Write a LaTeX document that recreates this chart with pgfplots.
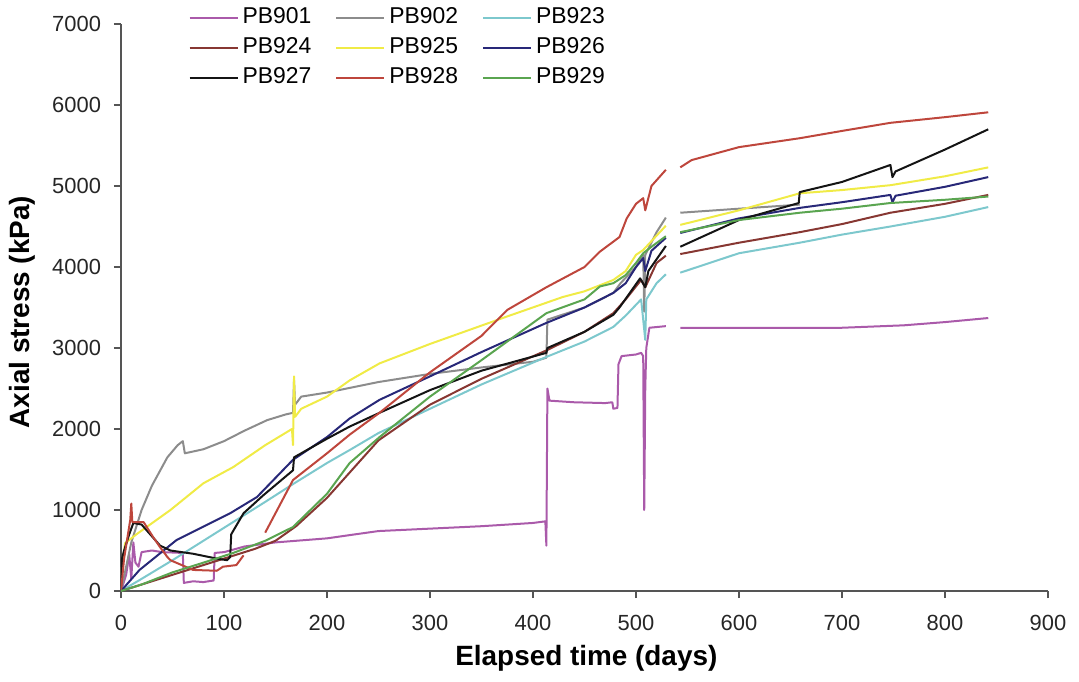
\documentclass[border=0pt]{standalone}
\usepackage{fontspec}
\setmainfont{Liberation Sans}
\usepackage{pgfplots}
\pgfplotsset{compat=1.18}
\definecolor{c901}{RGB}{170,90,170}
\definecolor{c902}{RGB}{140,140,140}
\definecolor{c923}{RGB}{125,200,205}
\definecolor{c924}{RGB}{135,55,50}
\definecolor{c925}{RGB}{240,235,70}
\definecolor{c926}{RGB}{40,40,120}
\definecolor{c927}{RGB}{20,20,20}
\definecolor{c928}{RGB}{190,70,60}
\definecolor{c929}{RGB}{90,165,80}
\definecolor{axc}{RGB}{85,85,85}
\begin{document}
\begin{tikzpicture}
\path[use as bounding box] (-60.5bp,-45.5bp) rectangle (479bp,295.5bp);
\begin{axis}[
  at={(0,0)}, anchor=south west,
  scale only axis, width=463.5bp, height=283.5bp,
  xmin=0, xmax=900, ymin=0, ymax=7000,
  xtick={0,100,...,900}, ytick={0,1000,...,7000},
  axis x line*=bottom, axis y line*=left,
  axis line style={axc, line width=0.8bp, -},
  tick style={axc, line width=0.8bp},
  tick align=outside, major tick length=3.5bp,
  minor tick num=0,
  scaled ticks=false,
  /pgf/number format/assume math mode=true,
  /pgf/number format/set thousands separator={},
  ticklabel style={font=\fontsize{11}{13}\selectfont, text=black!85},
  xticklabel style={yshift=-5bp},
  yticklabel style={xshift=-3bp},
  xlabel={Elapsed time (days)},
  ylabel={Axial stress (kPa)},
  label style={font=\fontsize{14}{16}\bfseries\selectfont},
  xlabel style={at={(axis description cs:0.502,-0.118)}, anchor=center},
  ylabel style={at={(axis description cs:-0.106,0.492)}, anchor=center, rotate=0},
  unbounded coords=jump,
  every axis plot/.append style={line width=1bp, line join=round},
  legend columns=3,
  legend cell align=left,
  legend style={at={(axis description cs:0.066,1.045)}, anchor=north west,
    draw=none, fill=none, font=\fontsize{11.5}{13}\selectfont,
    nodes={text height=8.5bp, text depth=2.5bp, inner sep=2bp},
    /tikz/every even column/.append style={column sep=10bp}},
  legend image code/.code={\draw[#1, line width=1bp] (0bp,0bp) -- (24bp,0bp);},
]
% PB901
\addplot[c901] coordinates {(0,0) (5,200) (8,450) (10,150) (12,600) (14,350) (17,300) (20,480) (30,500) (40,480) (60,470) (61,100) (70,120) (80,110) (90,130) (91,470) (100,480) (106,500) (120,550) (150,600) (200,650) (222,690) (250,740) (300,770) (350,800) (400,840) (412,860) (413,560) (414,2500) (416,2350) (440,2330) (470,2320) (477,2330) (478,2250) (482,2260) (483,2800) (486,2900) (500,2920) (505,2940) (507,2900) (508,1000) (509,2500) (510,3000) (513,3250) (529,3270) (530,nan) (543,3250) (600,3250) (700,3250) (760,3280) (800,3320) (842,3370)};
% PB902
\addplot[c902] coordinates {(0,0) (5,300) (10,600) (20,1000) (30,1300) (45,1650) (55,1800) (60,1850) (62,1700) (80,1750) (100,1850) (120,1980) (142,2110) (160,2180) (167,2200) (168,2600) (169,2300) (175,2400) (200,2450) (250,2580) (300,2680) (350,2760) (400,2830) (413,2880) (414,3350) (450,3500) (478,3680) (485,3800) (500,4000) (507,4150) (508,3450) (509,4150) (520,4430) (529,4610) (530,nan) (543,4670) (600,4720) (659,4770)};
% PB923
\addplot[c923] coordinates {(0,0) (20,150) (50,380) (80,620) (100,780) (140,1100) (167,1320) (200,1580) (222,1740) (250,1950) (300,2250) (350,2550) (413,2890) (450,3080) (478,3260) (490,3400) (505,3600) (509,3100) (510,3600) (520,3800) (529,3910) (530,nan) (543,3930) (600,4170) (659,4300) (700,4400) (747,4500) (800,4620) (842,4740)};
% PB924
\addplot[c924] coordinates {(0,0) (20,80) (50,200) (100,400) (130,520) (150,620) (170,800) (200,1150) (250,1860) (300,2300) (350,2620) (413,2970) (450,3200) (478,3430) (490,3600) (505,3840) (509,3750) (520,4050) (529,4140) (530,nan) (543,4160) (600,4300) (659,4430) (700,4530) (747,4670) (800,4780) (842,4890)};
% PB925
\addplot[c925] coordinates {(0,200) (4,590) (15,700) (48,1000) (80,1330) (109,1530) (140,1800) (166,2000) (167,1800) (168,2650) (169,2150) (175,2250) (200,2400) (222,2600) (251,2810) (300,3050) (375,3390) (429,3630) (450,3700) (478,3840) (490,3950) (500,4150) (507,4210) (529,4510) (530,nan) (543,4520) (600,4700) (659,4910) (700,4950) (747,5010) (800,5120) (842,5230)};
% PB926
\addplot[c926] coordinates {(0,0) (18,260) (54,630) (106,960) (132,1160) (167,1620) (200,1900) (222,2130) (251,2360) (300,2650) (350,2950) (413,3310) (450,3500) (478,3680) (490,3800) (500,4000) (507,4110) (509,3950) (515,4200) (529,4360) (530,nan) (543,4420) (600,4600) (659,4730) (700,4800) (747,4890) (749,4800) (752,4880) (800,4990) (842,5110)};
% PB927
\addplot[c927] coordinates {(0,0) (1,400) (3,500) (8,700) (12,840) (20,820) (38,560) (48,500) (70,460) (93,400) (103,380) (106,420) (107,700) (119,960) (138,1180) (167,1490) (168,1650) (200,1880) (222,2030) (251,2200) (300,2480) (350,2720) (413,2940) (414,3000) (450,3200) (478,3410) (484,3500) (504,3860) (509,3750) (512,3950) (529,4260) (530,nan) (543,4250) (600,4580) (658,4790) (659,4925) (700,5050) (747,5260) (749,5110) (752,5180) (800,5450) (842,5700)};
% PB928
\addplot[c928] coordinates {(0,0) (3,400) (9,880) (10,1080) (11,850) (22,850) (31,670) (38,540) (45,420) (48,380) (70,260) (93,250) (99,300) (112,320) (119,440) (120,nan) (140,720) (167,1370) (200,1700) (222,1930) (251,2200) (300,2700) (350,3150) (375,3470) (413,3750) (450,4000) (465,4190) (484,4370) (491,4600) (500,4780) (507,4850) (509,4700) (515,5000) (529,5200) (530,nan) (543,5230) (554,5320) (600,5480) (659,5590) (700,5680) (747,5780) (800,5850) (842,5910)};
% PB929
\addplot[c929] coordinates {(0,0) (20,80) (50,230) (80,350) (109,470) (140,620) (167,790) (200,1200) (222,1580) (251,1900) (300,2400) (350,2850) (413,3430) (450,3600) (465,3760) (478,3800) (490,3900) (500,4050) (507,4170) (515,4250) (529,4380) (530,nan) (543,4430) (600,4580) (659,4670) (700,4720) (747,4790) (800,4830) (842,4870)};
\legend{PB901,PB902,PB923,PB924,PB925,PB926,PB927,PB928,PB929}
\end{axis}
\end{tikzpicture}
\end{document}
